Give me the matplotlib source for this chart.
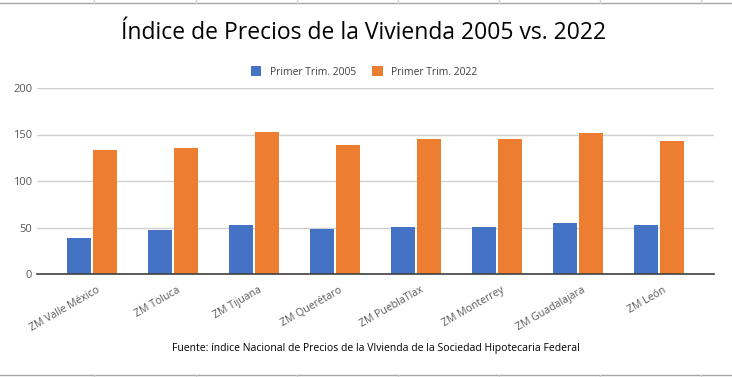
import matplotlib
matplotlib.use("Agg")
import matplotlib.pyplot as plt
from matplotlib.lines import Line2D
from matplotlib.patches import Patch
import matplotlib.transforms as mtransforms
import numpy as np

plt.rcParams['font.family'] = ['Open Sans', 'DejaVu Sans']

categories = ["ZM Valle México", "ZM Toluca", "ZM Tijuana", "ZM Querétaro",
              "ZM PueblaTlax", "ZM Monterrey", "ZM Guadalajara", "ZM León"]
serie_2005 = [38.5, 47.3, 52.3, 48.4, 50.5, 50.5, 54.5, 52.3]
serie_2022 = [133.0, 135.0, 152.3, 138.4, 144.8, 144.8, 151.3, 142.7]
series_names = ["Primer Trim. 2005", "Primer Trim. 2022"]
yticks = [0, 50, 100, 150, 200]
title = "Índice de Precios de la Vivienda 2005 vs. 2022"
source = "Fuente: índice Nacional de Precios de la VIvienda de la Sociedad Hipotecaria Federal"

BLUE = "#4472C4"
ORANGE = "#ED7D31"
W, H = 732, 377

fig = plt.figure(figsize=(W / 100, H / 100), dpi=100)
ax = fig.add_axes([37 / W, 1 - 274 / H, (714 - 37) / W, (274 - 88) / H])

x = np.arange(len(categories))
bw = 0.296
off = 0.16
ax.bar(x - off, serie_2005, width=bw, color=BLUE, zorder=3, label=series_names[0])
ax.bar(x + off, serie_2022, width=bw, color=ORANGE, zorder=3, label=series_names[1])

ax.set_xlim(-0.68, len(categories) - 1 + 0.68)
ax.set_ylim(0, 200)
ax.set_yticks(yticks)
ax.set_yticklabels([str(t) for t in yticks], fontsize=8, color="#595959")
ax.yaxis.grid(True, color="#d0d0d0", linewidth=1, zorder=0)
ax.set_axisbelow(True)
for s in ["top", "right", "left"]:
    ax.spines[s].set_visible(False)
ax.spines["bottom"].set_color("#404040")
ax.spines["bottom"].set_linewidth(1.2)
ax.spines["bottom"].set_zorder(4)
ax.tick_params(axis="both", length=0)
ax.tick_params(axis="y", pad=3.5)
ax.set_xticks(x)
ax.set_xticklabels(categories, rotation=30, ha="right", rotation_mode="anchor",
                   fontsize=7.6, color="#595959")
ax.tick_params(axis="x", pad=7.5)
shift = mtransforms.ScaledTranslation(4 / 100, 0, fig.dpi_scale_trans)
for lbl in ax.get_xticklabels():
    lbl.set_transform(lbl.get_transform() + shift)

fig.text(364 / W, 1 - 33 / H, title, ha="center", va="center", fontsize=16.5, color="#000000")

handles = [Patch(facecolor=BLUE, edgecolor="none"), Patch(facecolor=ORANGE, edgecolor="none")]
fig.legend(handles, series_names, loc="center", bbox_to_anchor=(364 / W, 1 - 72 / H),
           ncol=2, frameon=False, fontsize=7.4, handlelength=1.0, handleheight=1.0,
           handletextpad=0.8, columnspacing=1.6, labelcolor="#404040")

fig.text(376 / W, 1 - 349 / H, source, ha="center", va="center", fontsize=7.5, color="#000000")

# spreadsheet cell borders around the chart
gc = "#a6a6a6"
fig.add_artist(Line2D([0, 1], [1 - 2.5 / H, 1 - 2.5 / H], transform=fig.transFigure, color=gc, lw=1))
fig.add_artist(Line2D([0, 1], [1 - 374.5 / H, 1 - 374.5 / H], transform=fig.transFigure, color=gc, lw=1))
for px in [94, 196, 297, 398, 499, 600, 701]:
    fig.add_artist(Line2D([px / W, px / W], [1 - 2.5 / H, 1], transform=fig.transFigure, color="#d0d0d0", lw=1))
    fig.add_artist(Line2D([px / W, px / W], [0, 1 - 374.5 / H], transform=fig.transFigure, color="#d0d0d0", lw=1))

fig.savefig("out.png", dpi=100)
